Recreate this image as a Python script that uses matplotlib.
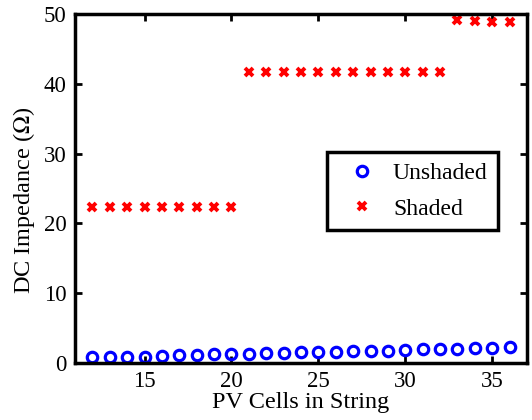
import matplotlib
matplotlib.use("Agg")
import matplotlib.pyplot as plt

plt.rcParams['font.family'] = ['Liberation Serif', 'DejaVu Serif']
plt.rcParams['mathtext.fontset'] = 'stix'

cells = list(range(12, 37))
unshaded = [0.81, 0.81, 0.86, 0.91, 1.05, 1.15, 1.19, 1.24, 1.34, 1.34, 1.43, 1.48,
            1.53, 1.58, 1.62, 1.67, 1.72, 1.77, 1.91, 2.01, 2.05, 2.05, 2.10, 2.20, 2.34]
shaded = [22.4] * 9 + [41.7] * 12 + [49.2, 49.0, 48.8, 48.8]

x_ticks = [15, 20, 25, 30, 35]
y_ticks = [0, 10, 20, 30, 40, 50]

fig = plt.figure(figsize=(5.32, 4.2), dpi=100)
ax = fig.add_axes([0.141, 0.1357, 0.8496, 0.831])

ax.plot(cells, unshaded, linestyle='none', marker='o', markersize=7.5,
        markerfacecolor='none', markeredgecolor='#0000ff', markeredgewidth=2.3,
        label='Unshaded')
ax.plot(cells, shaded, linestyle='none', marker='x', markersize=5.5,
        color='#ff0000', markeredgewidth=2.8, label='Shaded')

ax.set_xlim(11, 37)
ax.set_ylim(0, 50)
ax.set_xticks(x_ticks)
ax.set_yticks(y_ticks)
ax.tick_params(direction='in', top=True, right=True, length=5, width=2,
               labelsize=16.5, pad=6)
for s in ax.spines.values():
    s.set_linewidth(2.5)

ax.set_xlabel('PV Cells in String', fontsize=17.5, labelpad=0)
ax.set_ylabel('DC Impedance ($\\Omega$)', fontsize=17.5)
ax.yaxis.set_label_coords(-0.084, 0.467)

leg = ax.legend(loc='center', bbox_to_anchor=(0.7467, 0.493), fontsize=17,
                frameon=True, fancybox=False, shadow=False, framealpha=1,
                edgecolor='black', borderpad=0.45, handletextpad=0.25,
                labelspacing=0.6, handlelength=2.1, borderaxespad=0)
leg.get_frame().set_linewidth(2.5)

fig.savefig('out.png', dpi=100)
